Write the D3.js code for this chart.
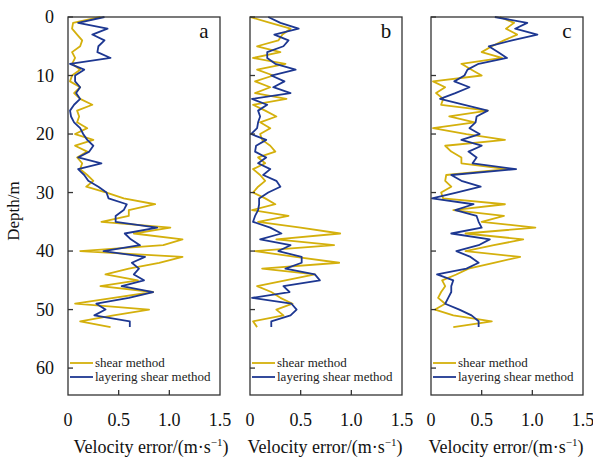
<!DOCTYPE html>
<html>
<head>
<meta charset="utf-8">
<script src="https://cdn.jsdelivr.net/npm/d3@7"></script>
<style>
  body { margin: 0; background: #fff; }
  svg { display: block; font-family: "Liberation Serif", "Times New Roman", serif; }
</style>
</head>
<body>
<svg id="chart" width="593" height="459"></svg>
<script>
// depth of each sample (m)
const depths = [0,1,2,3,4,5,6,7,8,9,10,11,12,13,14,15,16,17,18,19,20,21,22,23,24,25,26,
  27,28,29,30,31,32,33,34,35,36,37,38,39,40,41,42,43,44,45,46,47,48,49,50,51,52,53];

// velocity error, panel a
const shearA = [0.32,0.05,0.04,0.09,0.14,0.12,0.04,0.07,0.04,0.12,0.04,0.02,0.12,0.06,0.12,0.24,0.09,0.11,
  0.09,0.19,0.07,0.25,0.07,0.19,0.09,0.14,0.12,0.19,0.25,0.18,0.38,0.55,0.86,0.60,0.60,0.33,1.01,0.65,
  1.13,0.94,0.12,1.13,0.90,0.60,0.37,0.69,0.32,0.84,0.45,0.07,0.80,0.45,0.12,0.42];
const layerA = [0.36,0.10,0.39,0.24,0.36,0.30,0.29,0.42,0.02,0.16,0.07,0.07,0.12,0.08,0.12,0.06,0.02,0.03,
  0.06,0.12,0.15,0.19,0.25,0.21,0.10,0.33,0.10,0.16,0.20,0.30,0.38,0.40,0.58,0.55,0.47,0.47,0.88,0.56,
  0.62,0.71,0.35,0.76,0.63,0.70,0.65,0.75,0.53,0.84,0.60,0.28,0.37,0.26,0.61,0.61];

// panel b
const shearB = [0.00,0.20,0.40,0.32,0.28,0.07,0.30,0.03,0.35,0.07,0.23,0.05,0.20,0.05,0.36,0.03,0.15,0.26,
  0.10,0.20,0.10,0.12,0.20,0.25,0.08,0.15,0.03,0.10,0.15,0.08,0.03,0.15,0.25,0.02,0.38,0.08,0.50,0.89,
  0.26,0.83,0.05,0.45,0.88,0.12,0.64,0.35,0.07,0.21,0.30,0.42,0.26,0.33,0.03,0.07];
const layerB = [0.18,0.30,0.48,0.24,0.38,0.33,0.17,0.17,0.25,0.45,0.21,0.34,0.23,0.40,0.02,0.17,0.08,0.10,
  0.08,0.07,0.01,0.16,0.06,0.05,0.16,0.08,0.20,0.13,0.26,0.30,0.18,0.09,0.09,0.08,0.05,0.03,0.20,0.31,
  0.10,0.40,0.28,0.51,0.51,0.35,0.64,0.69,0.33,0.39,0.02,0.41,0.46,0.40,0.21,0.21];

// panel c
const shearC = [0.68,0.82,0.74,0.85,0.72,0.60,0.50,0.70,0.30,0.40,0.50,0.02,0.14,0.05,0.12,0.10,0.56,0.18,
  0.43,0.02,0.35,0.73,0.14,0.20,0.30,0.30,0.75,0.15,0.14,0.20,0.10,0.12,0.73,0.22,0.72,0.50,1.03,0.34,
  0.91,0.62,0.34,0.88,0.62,0.37,0.25,0.11,0.14,0.10,0.07,0.14,0.04,0.22,0.60,0.22];
const layerC = [0.63,0.95,0.83,1.05,0.80,0.57,0.66,0.75,0.47,0.36,0.33,0.23,0.38,0.24,0.09,0.33,0.56,0.45,
  0.44,0.38,0.48,0.30,0.50,0.37,0.45,0.41,0.84,0.20,0.30,0.49,0.25,0.01,0.42,0.24,0.45,0.47,0.50,0.20,
  0.58,0.47,0.25,0.39,0.47,0.35,0.06,0.22,0.20,0.20,0.17,0.14,0.28,0.40,0.47,0.47];

const panelLabels = ["a", "b", "c"];
const seriesNames = ["shear method", "layering shear method"];
const xTicks = [0, 0.5, 1.0, 1.5];
const xTickText = ["0", "0.5", "1.0", "1.5"];
const yTicks = [0, 10, 20, 30, 40, 50, 60];

const panels = [
  { label: panelLabels[0], shear: shearA, layer: layerA, left: 68, titleX: 151 },
  { label: panelLabels[1], shear: shearB, layer: layerB, left: 250, titleX: 325 },
  { label: panelLabels[2], shear: shearC, layer: layerC, left: 431, titleX: 506 }
];

const yellow = "#d4b00c", blue = "#1d3791", frame = "#333";
const plotTop = 17, plotBottom = 395, pw = 152;

const svg = d3.select("#chart");

const y = d3.scaleLinear().domain([0, 64.6]).range([plotTop, plotBottom]);

panels.forEach(function(p, i) {
  const x = d3.scaleLinear().domain([0, 1.5]).range([p.left, p.left + pw]);
  const g = svg.append("g");

  // series lines
  const line = function(vals) {
    return d3.line()
      .x(function(d, k) { return x(vals[k]); })
      .y(function(d) { return y(d); })(depths);
  };
  g.append("path").attr("d", line(p.shear))
    .attr("fill", "none").attr("stroke", yellow).attr("stroke-width", 1.8).attr("stroke-linejoin", "round");
  g.append("path").attr("d", line(p.layer))
    .attr("fill", "none").attr("stroke", blue).attr("stroke-width", 1.8).attr("stroke-linejoin", "round");

  // frame
  g.append("rect")
    .attr("x", p.left).attr("y", plotTop)
    .attr("width", pw).attr("height", plotBottom - plotTop)
    .attr("fill", "none").attr("stroke", frame).attr("stroke-width", 1.3);

  // y ticks (inward)
  g.selectAll(".yt").data(yTicks).enter().append("line")
    .attr("x1", p.left).attr("x2", p.left + 5)
    .attr("y1", function(d) { return y(d); }).attr("y2", function(d) { return y(d); })
    .attr("stroke", frame).attr("stroke-width", 1.3);

  // x ticks (inward)
  g.selectAll(".xt").data(xTicks.slice(1, 3)).enter().append("line")
    .attr("x1", function(d) { return x(d); }).attr("x2", function(d) { return x(d); })
    .attr("y1", plotBottom).attr("y2", plotBottom - 5)
    .attr("stroke", frame).attr("stroke-width", 1.3);

  // x tick labels
  g.selectAll(".xl").data(xTicks).enter().append("text")
    .attr("x", function(d) { return x(d); }).attr("y", 426)
    .attr("text-anchor", "middle").attr("font-size", 18).attr("fill", "#111")
    .text(function(d, k) { return xTickText[k]; });

  // x title
  const t = g.append("text").attr("x", p.titleX).attr("y", 453)
    .attr("text-anchor", "middle").attr("font-size", 18).attr("fill", "#111");
  t.append("tspan").text("Velocity error/(m\u00b7s");
  t.append("tspan").attr("dy", -7).attr("font-size", 11).text("\u22121");
  t.append("tspan").attr("dy", 7).text(")");

  // panel letter
  g.append("text").attr("x", p.left + pw - 16).attr("y", 38)
    .attr("text-anchor", "middle").attr("font-size", 21).attr("fill", "#111")
    .text(p.label);

  // legend
  const leg = [[seriesNames[0], yellow, 363], [seriesNames[1], blue, 377]];
  leg.forEach(function(l) {
    g.append("line").attr("x1", p.left + 2).attr("x2", p.left + 25)
      .attr("y1", l[2]).attr("y2", l[2]).attr("stroke", l[1]).attr("stroke-width", 1.8);
    g.append("text").attr("x", p.left + 27).attr("y", l[2] + 4)
      .attr("font-size", 13).attr("fill", "#222").text(l[0]);
  });

  // y tick labels, only on first panel
  if (i === 0) {
    g.selectAll(".yl").data(yTicks).enter().append("text")
      .attr("x", 54).attr("y", function(d) { return y(d) + 6; })
      .attr("text-anchor", "end").attr("font-size", 18).attr("fill", "#111")
      .text(function(d) { return d; });
  }
});

svg.append("text")
  .attr("transform", "translate(19,211) rotate(-90)")
  .attr("text-anchor", "middle").attr("font-size", 17).attr("fill", "#111")
  .text("Depth/m");
</script>
</body>
</html>
